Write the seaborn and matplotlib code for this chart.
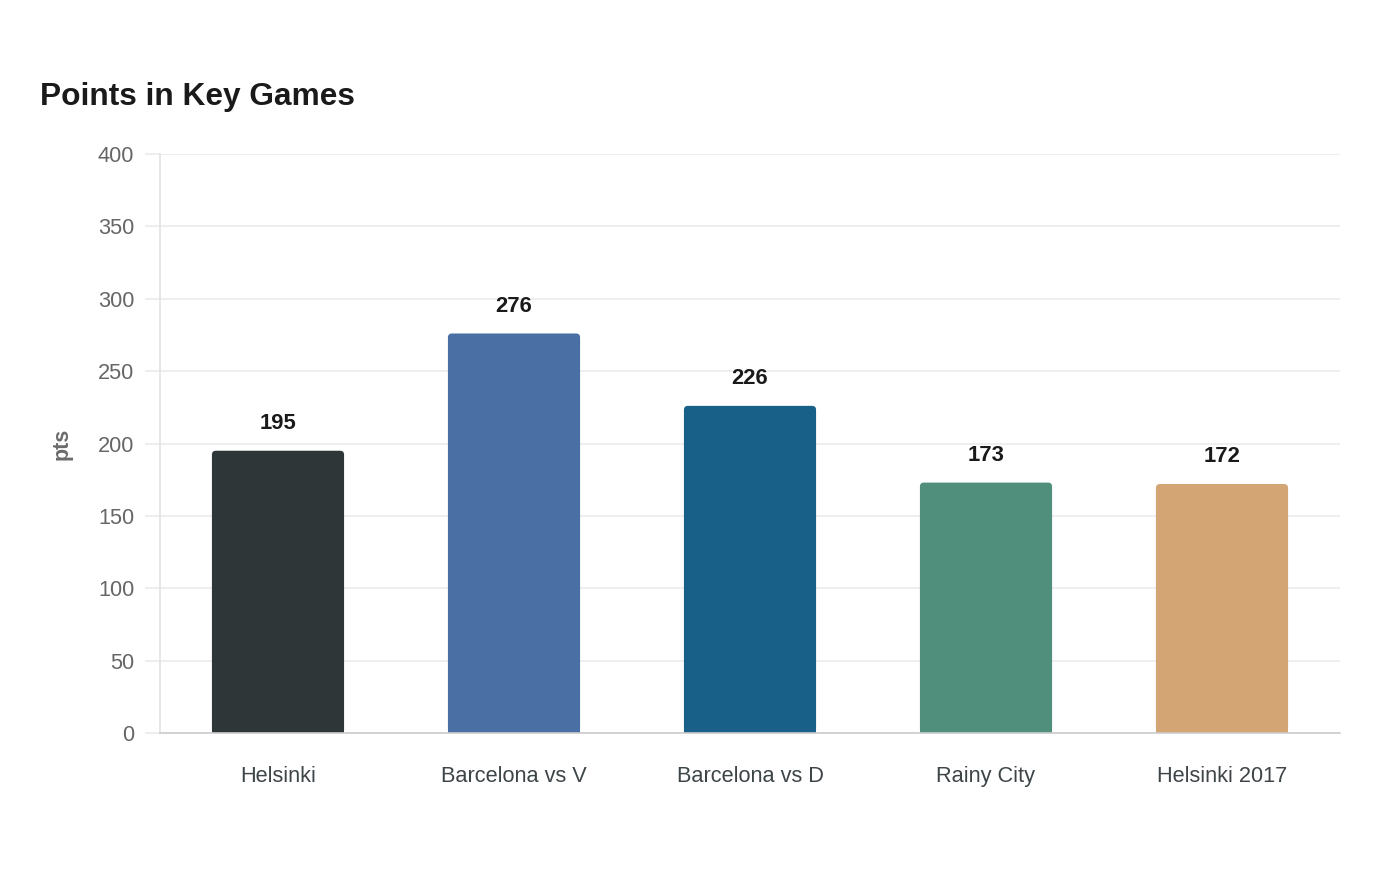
import matplotlib
matplotlib.use("Agg")
import matplotlib.pyplot as plt
import seaborn as sns
import pandas as pd
from matplotlib.patches import FancyBboxPatch

categories = ["Helsinki", "Barcelona vs V", "Barcelona vs D", "Rainy City", "Helsinki 2017"]
values = [195, 276, 226, 173, 172]
colors = ["#2E3638", "#4A6FA5", "#186088", "#4F8F7B", "#D3A474"]
y_ticks = [0, 50, 100, 150, 200, 250, 300, 350, 400]

sns.set_theme(style="white")
plt.rcParams["font.family"] = ["Liberation Sans", "DejaVu Sans"]

df = pd.DataFrame({"game": categories, "pts": values})

fig = plt.figure(figsize=(14, 8.8), dpi=100)
ax = fig.add_axes([160 / 1400, 1 - 733 / 880, 1180 / 1400, 579 / 880])

sns.barplot(data=df, x="game", y="pts", hue="game", palette=colors,
            width=0.56, ax=ax, legend=False, saturation=1, edgecolor="none")

ax.set_ylim(0, 400)
ax.set_xlim(-0.5, 4.5)
ax.set_yticks(y_ticks)
ax.set_yticklabels([str(t) for t in y_ticks])

# rounded tops
px_x = 1 / 236.0
px_y = 400 / 579.0
r_px = 4
for p in list(ax.patches):
    x, y, w, h = p.get_x(), p.get_y(), p.get_width(), p.get_height()
    col = p.get_facecolor()
    p.set_height(h - r_px * px_y * 1.5)
    fb = FancyBboxPatch((x, y), w, h,
                        boxstyle=f"round,pad=0,rounding_size={r_px * px_x}",
                        mutation_aspect=px_y / px_x,
                        facecolor=col, edgecolor="none", zorder=p.get_zorder())
    ax.add_patch(fb)

for i, v in enumerate(values):
    ax.annotate(str(v), xy=(i, v), xytext=(0, 19.5), textcoords="offset points",
                ha="center", va="center", fontsize=15.8, fontweight="bold",
                color="#1a1a1a")

ax.grid(axis="y", color="#ebebeb", linewidth=1.2)
ax.set_axisbelow(True)
for s in ["top", "right"]:
    ax.spines[s].set_visible(False)
ax.spines["left"].set_color("#e3e3e3")
ax.spines["left"].set_linewidth(1.2)
ax.spines["bottom"].set_color("#cccccc")
ax.spines["bottom"].set_linewidth(1.2)

ax.tick_params(axis="y", length=11, width=1.2, color="#ebebeb", pad=7.5,
               labelsize=15.7, labelcolor="#666666", left=True)
ax.tick_params(axis="x", length=0, pad=24, labelsize=15.7, labelcolor="#3d4548")

ax.set_xlabel("")
ax.set_ylabel("pts", fontsize=15.5, fontweight="bold", color="#6b6b6b")
ax.yaxis.set_label_coords(-(160 - 73) / 1180, 0.5)

fig.text(40 / 1400, 1 - 97 / 880, "Points in Key Games", fontsize=22.8,
         fontweight="bold", color="#1a1a1a", ha="left", va="center")

fig.savefig("out.png", dpi=100, facecolor="white")
